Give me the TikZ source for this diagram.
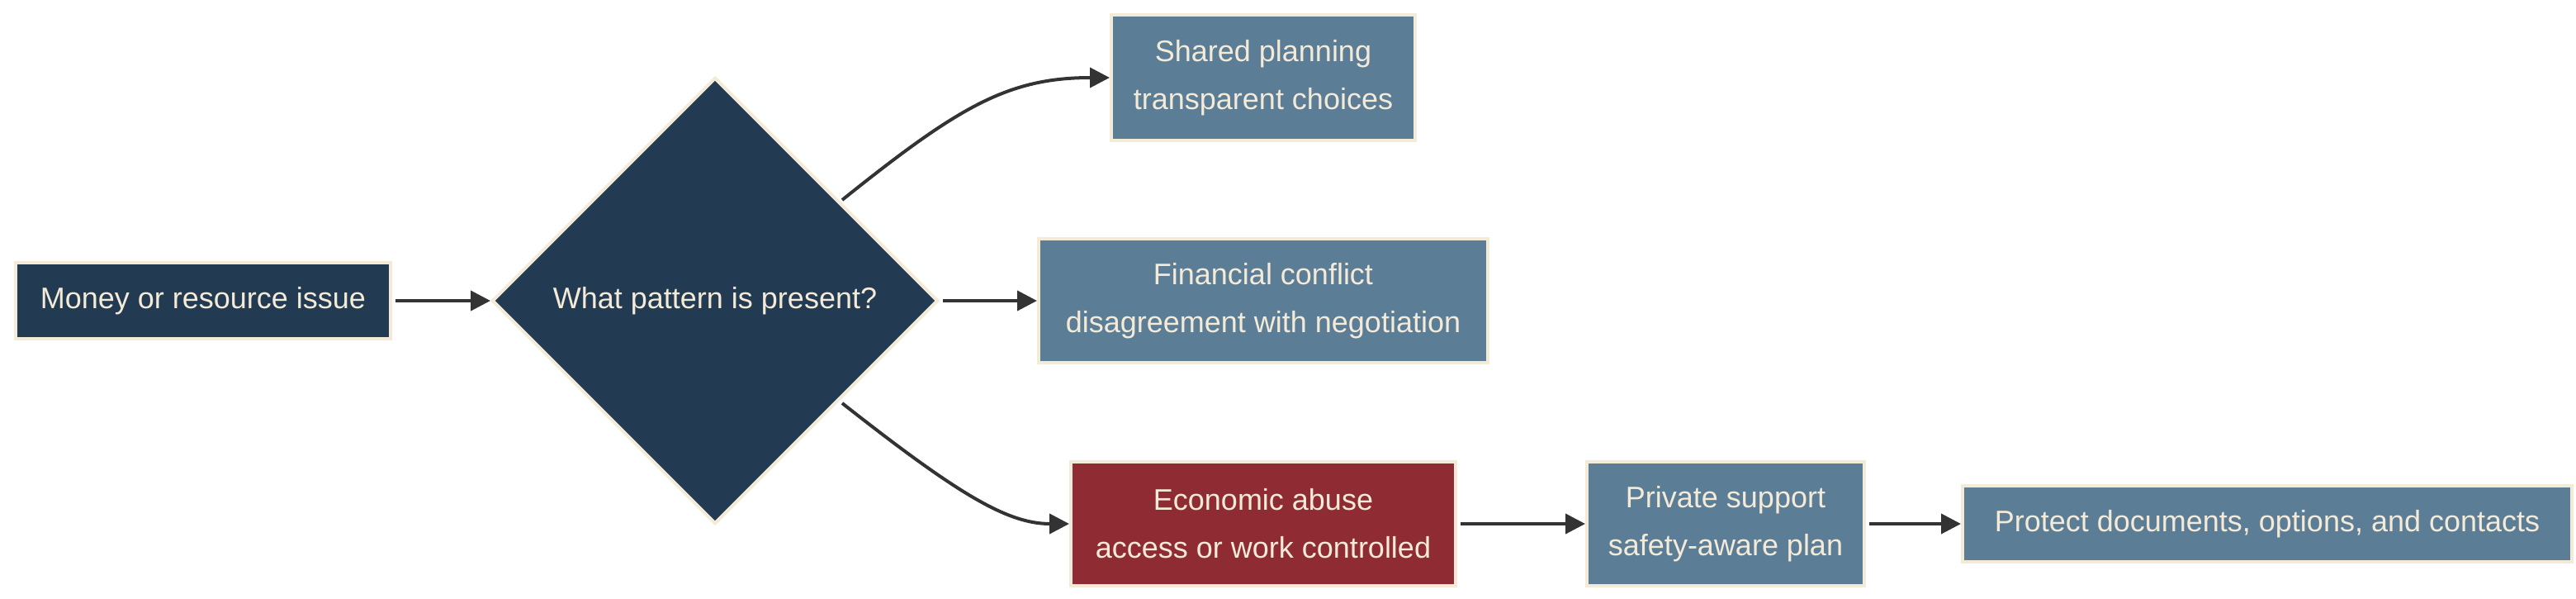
\documentclass[tikz,border=0pt]{standalone}
\usepackage{fontspec}
\setmainfont{Liberation Sans}
\usetikzlibrary{shapes.geometric,arrows.meta}
\definecolor{navy}{HTML}{223A52}
\definecolor{steel}{HTML}{5B7D96}
\definecolor{wine}{HTML}{8E2B33}
\definecolor{cream}{HTML}{F3EAD8}
\definecolor{ink}{HTML}{333333}
\begin{document}
\begin{tikzpicture}[x=1pt,y=-1pt,
  box/.style={draw=cream,line width=2pt,text=cream,font=\fontsize{18}{29}\selectfont,align=center,inner sep=0pt},
  arr/.style={draw=ink,line width=2pt,-{Triangle[length=12pt,width=12pt]}}]
\useasboundingbox (0,0) rectangle (1560,362);
\node[box,fill=navy,minimum width=227pt,minimum height=46pt] (a) at (123,182) {Money or resource issue};
\node[box,fill=navy,shape=diamond,minimum width=270pt,minimum height=270pt] (d) at (433,182) {What pattern is present?};
\node[box,fill=steel,minimum width=184pt,minimum height=76pt] (b) at (765,47) {Shared planning\\transparent choices};
\node[box,fill=steel,minimum width=272pt,minimum height=75pt] (c) at (765,182) {Financial conflict\\disagreement with negotiation};
\node[box,fill=wine,minimum width=233pt,minimum height=75pt] (e) at (765,317) {Economic abuse\\access or work controlled};
\node[box,fill=steel,minimum width=168pt,minimum height=75pt] (f) at (1045,317) {Private support\\safety-aware plan};
\node[box,fill=steel,minimum width=369pt,minimum height=46pt] (g) at (1373,317) {Protect documents, options, and contacts};
\draw[arr] (a.east) ++(2,0) -- (d.west);
\draw[arr] (d.east) ++(2,0) -- (c.west);
\draw[arr] (510,121) .. controls (580,65) and (610,47) .. (b.west);
\draw[arr] (510,244) .. controls (580,299) and (610,317) .. (e.west);
\draw[arr] (e.east) ++(2,0) -- (f.west);
\draw[arr] (f.east) ++(2,0) -- (g.west);
\end{tikzpicture}
\end{document}
